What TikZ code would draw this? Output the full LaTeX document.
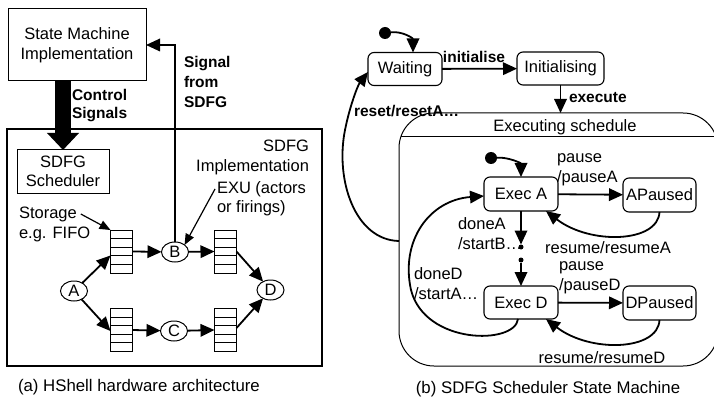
\documentclass[tikz,border=0pt]{standalone}
\usepackage{fontspec}
\setmainfont{Liberation Sans}
\usetikzlibrary{arrows.meta,calc,shapes.geometric}

\begin{document}
\begin{tikzpicture}[x=1pt,y=-1pt,
  every node/.style={inner sep=0pt, outer sep=0pt},
  txt/.style={font=\fontsize{16.5}{20}\selectfont},
  btxt/.style={font=\fontsize{15.5}{19}\selectfont\bfseries},
  plainbox/.style={draw, line width=1pt, rectangle, txt, align=center},
  state/.style={draw, line width=1.1pt, rectangle, rounded corners=6pt, txt},
  actor/.style={draw, line width=1pt, ellipse, minimum width=27pt, minimum height=20pt, txt},
  fifo/.style={draw, line width=1pt, rectangle, minimum width=22pt, minimum height=43pt,
    path picture={\foreach \k in {1,2,3,4}{\draw[line width=1pt]
      ($(path picture bounding box.north west)!\k/5!(path picture bounding box.south west)$) --
      ($(path picture bounding box.north east)!\k/5!(path picture bounding box.south east)$);}}},
  arr/.style={line width=1.8pt, -{Triangle[length=14pt,width=12.5pt]}},
  thin/.style={line width=1.2pt, -{Triangle[length=11pt,width=9pt]}},
  startdot/.style={circle, fill, minimum size=12pt},
  smalldot/.style={circle, fill, minimum size=5pt},
]
\useasboundingbox (0,0) rectangle (714,398);
\clip (0,0) rectangle (714,398);

% ---------------- (a) hardware architecture ----------------
\node[plainbox, minimum width=138pt, minimum height=72pt] (smi) at (77,45)
  {State Machine\\Implementation};
\node[draw, line width=1.2pt, minimum width=315pt, minimum height=237pt] (impl) at (164.5,247.5) {};
\node[plainbox, minimum width=92pt, minimum height=43pt, font=\fontsize{16.5}{19}\selectfont] (sched) at (63,171.5)
  {SDFG\\Scheduler};

\node[txt, align=right, anchor=east] (impllbl) at (309,157) {SDFG\\Implementation};

% control signals: wide arrow
\draw[line width=16pt, -{Triangle[length=17pt,width=31pt]}] (sched.north |- smi.south) -- (sched.north);
\node[btxt, align=left, anchor=west, font=\fontsize{15.5}{18}\selectfont\bfseries] (ctl) at (72,106) {Control\\Signals};

% actors
\node[actor] (A) at (74,291) {A};
\node[actor] (B) at (175,252) {B};
\node[actor] (C) at (174,331) {C};
\node[actor] (D) at (270.5,290) {D};

% storage
\node[fifo] (f1) at (121.5,251.5) {};
\node[fifo] (f2) at (225.5,251.5) {};
\node[fifo] (f3) at (121.5,330) {};
\node[fifo] (f4) at (225.5,330) {};

\draw[arr] (A) -- ([yshift=-4pt]f1.west);
\draw[arr] (A) -- ([yshift=-1pt]f3.west);
\draw[arr] (f1.east) -- (B);
\draw[arr] (B) -- (f2.west);
\draw[arr] (f3.east) -- (C);
\draw[arr] (C) -- (f4.west);
\draw[arr] (f2.east) -- (D);
\draw[arr] ([yshift=2pt]f4.east) -- (D);

% signal back to the state machine
\draw[arr] (B.north) |- (smi.east);
\node[btxt, align=left, anchor=west, font=\fontsize{15.5}{20}\selectfont\bfseries] (sig) at (184,82) {Signal\\from\\SDFG};

% annotations
\node[txt, anchor=west] (stor1) at (19,214) {Storage};
\node[txt, anchor=west] (stor2) at (19,234) {e.g. FIFO};
\draw[thin] ([xshift=4pt]stor1.east) -- (f1.north west);
\node[txt, anchor=west] (exu1) at (217,189) {EXU (actors};
\node[txt, anchor=west] (exu2) at (217,208) {or firings)};
\draw[thin] ([xshift=-2pt]exu1.west) -- (B.north east);

\node[txt, anchor=west, font=\fontsize{16.8}{20}\selectfont] (capa) at (18,387) {(a) HShell hardware architecture};

% ---------------- (b) scheduler state machine ----------------
\node[startdot] (d1) at (385,33) {};
\node[state, minimum width=74pt, minimum height=33pt] (wait) at (405,69) {Waiting};
\node[state, minimum width=87pt, minimum height=33pt] (initg) at (560.5,68.5) {Initialising};
\draw[arr] (d1) .. controls (402,31) and (413,38) .. ($(wait.north)+(8,0)$);
\draw[arr] (wait) -- (initg);
\node[btxt] (inilbl) at (474,57) {initialise};

\node[draw, line width=1pt, rounded corners=35pt, minimum width=319pt, minimum height=253pt] (ex) at (558.5,239.5) {};
\draw[line width=1pt] ($(ex.north west)+(1.5,24)$) -- ($(ex.north east)+(-1.5,24)$);
\node[txt] (extitle) at (565,127) {Executing schedule};
\draw[arr] (initg.south) -- (initg.south |- ex.north);
\node[btxt, anchor=west] (exlbl) at (569,98) {execute};

\draw[arr] (ex.west |- 0,241) .. controls (355,240) and (335,180) .. (345,130)
  .. controls (350,105) and (358,85) .. ($(wait.west)+(0,3)$);
\node[btxt, anchor=west] (rstlbl) at (354,111) {reset/resetA\ldots};

% inner states
\node[startdot] (d2) at (491,158) {};
\node[state, minimum width=74pt, minimum height=34pt] (execA) at (521,194) {Exec A};
\node[state, minimum width=73pt, minimum height=34pt] (apA) at (659.5,195) {APaused};
\node[state, minimum width=74pt, minimum height=33pt] (execD) at (521,302.5) {Exec D};
\node[state, minimum width=73pt, minimum height=34pt] (dpD) at (659.5,303) {DPaused};
\draw[arr] (d2) .. controls (508,157) and (521,163) .. (execA.north);

\draw[arr] (execA) -- (apA);
\node[txt, align=left, anchor=west] (plA) at (557,170) {pause\\/pauseA};
\draw[arr] (apA.south) .. controls (658,243) and (590,245) .. ($(execA.south east)+(-12,0)$);
\node[txt] (rsA) at (608,248) {resume/resumeA};

\draw[arr] (execD) -- (dpD);
\node[txt, align=left, anchor=west] (plD) at (559,278) {pause\\/pauseD};
\draw[arr] (dpD.south) .. controls (658,351) and (590,353) .. ($(execD.south east)+(-12,0)$);
\node[txt] (rsD) at (602,358) {resume/resumeD};

\node[smalldot] (k1) at (521,247) {};
\node[smalldot] (k2) at (521,260) {};
\draw[arr] (execA) -- (k1);
\draw[arr] (k2) -- (execD);
\node[txt, align=left, anchor=west] (dnA) at (458,234) {doneA\\/startB\ldots};

\draw[arr] ($(execD.south)+(-3,0)$) .. controls (515,345) and (425,345) .. (411,290)
  .. controls (400,240) and (430,200) .. ($(execA.west)+(0,2)$);
\node[txt, align=left, anchor=west] (dnD) at (414,284) {doneD\\/startA\ldots};

\node[txt, font=\fontsize{16.8}{20}\selectfont] (capb) at (548,389) {(b) SDFG Scheduler State Machine};
\end{tikzpicture}
\end{document}
